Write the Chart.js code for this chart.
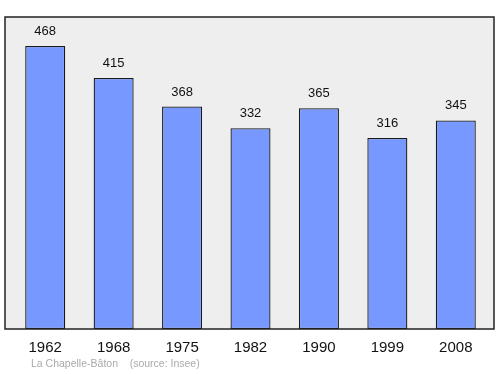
<!DOCTYPE html>
<html>
<head>
<meta charset="utf-8">
<script src="https://cdn.jsdelivr.net/npm/chart.js@4"></script>
<style>
  html, body { margin: 0; padding: 0; background: #ffffff; }
  #wrap { width: 500px; height: 374px; position: relative; }
</style>
</head>
<body>
<div id="wrap"><canvas id="graphique" width="500" height="374"></canvas></div>
<script>
  // données de population
  const annees = ['1962', '1968', '1975', '1982', '1990', '1999', '2008']
  const population = [468, 415, 368, 332, 365, 316, 345]
  const legendeSource = 'La Chapelle-Bâton    (source: Insee)'

  // fond gris + cadre noir autour de la zone du graphique
  const cadrePlugin = {
    id: 'cadre',
    beforeDatasetsDraw (chart) {
      const { ctx, chartArea } = chart
      const x0 = chartArea.left - 6
      const x1 = chartArea.right + 4
      ctx.save()
      ctx.fillStyle = '#eeeeee'
      ctx.fillRect(x0, chartArea.top, x1 - x0, chartArea.bottom - chartArea.top)
      ctx.restore()
    },
    afterDatasetsDraw (chart) {
      const { ctx, chartArea } = chart
      const x0 = chartArea.left - 6
      const x1 = chartArea.right + 4
      ctx.save()
      ctx.strokeStyle = '#222222'
      ctx.lineWidth = 1.5
      ctx.strokeRect(x0, chartArea.top, x1 - x0, chartArea.bottom - chartArea.top)
      ctx.restore()
    }
  }

  // valeurs au-dessus des barres + source en bas
  const etiquettesPlugin = {
    id: 'etiquettes',
    afterDraw (chart) {
      const { ctx } = chart
      const meta = chart.getDatasetMeta(0)
      ctx.save()
      ctx.fillStyle = '#111111'
      ctx.font = '13px "Liberation Sans", Arial, sans-serif'
      ctx.textAlign = 'center'
      ctx.textBaseline = 'middle'
      meta.data.forEach((barre, i) => {
        ctx.fillText(String(population[i]), barre.x, barre.y - 14.5)
      })
      ctx.fillStyle = '#aaaaaa'
      ctx.font = '10.5px "Liberation Sans", Arial, sans-serif'
      ctx.textAlign = 'left'
      ctx.fillText(legendeSource, 31, 364)
      ctx.restore()
    }
  }

  const ctx = document.getElementById('graphique')
  new Chart(ctx, {
    type: 'bar',
    data: {
      labels: annees,
      datasets: [{
        data: population,
        backgroundColor: '#7799ff',
        borderColor: '#1a1a1a',
        borderWidth: 1.3,
        borderSkipped: false,
        categoryPercentage: 1,
        barPercentage: 0.585
      }]
    },
    options: {
      responsive: false,
      animation: false,
      devicePixelRatio: 1,
      layout: { padding: { left: 11, right: 10, top: 17, bottom: 0 } },
      plugins: {
        legend: { display: false },
        tooltip: { enabled: false }
      },
      scales: {
        x: {
          grid: { display: false, drawTicks: false },
          border: { display: false },
          ticks: {
            color: '#111111',
            font: { family: '"Liberation Sans", Arial, sans-serif', size: 15 },
            padding: 10,
            maxRotation: 0
          },
          afterFit (scale) { scale.height = 45 }
        },
        y: {
          display: false,
          min: 0,
          max: 516
        }
      }
    },
    plugins: [cadrePlugin, etiquettesPlugin]
  })
</script>
</body>
</html>
